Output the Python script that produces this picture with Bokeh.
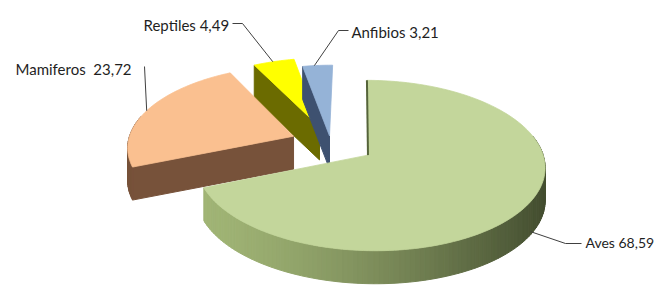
import numpy as np
from bokeh.plotting import figure
from bokeh.models import Range1d
from bokeh.core.properties import value
from bokeh.embed import file_html
from bokeh.resources import INLINE

# ---------------- data ----------------
categories = ["Aves", "Mamiferos", "Reptiles", "Anfibios"]
percent = [68.59, 23.72, 4.49, 3.21]
label_text = ["Aves 68,59", "Mamiferos\u00a0\u00a023,72", "Reptiles 4,49", "Anfibios 3,21"]

# ---------------- styles ----------------
top_colors = ["#C3D69B", "#FAC090", "#FFFF00", "#95B3D7"]
side_colors = ["#8FA466", "#77523A", "#6B6B00", "#3E5170"]
explode = [0.2627, 0.2384, 0.2146, 0.0883]      # fraction of radius
depth = 33                                        # pie thickness in px
# 3-D view (projective map of the pie plane onto the page)
view = dict(cx=330.2, cy=142.4, ax=168.8, bx=3.305, ay=1.296, by=-80.72, k=0.1194, kx=-0.01511)

vals = np.array(percent, float)
cum = np.concatenate([[0.0], np.cumsum(vals)])
hi = 90 - cum[:-1] * 3.6          # slices run clockwise from 12 o'clock
lo = 90 - cum[1:] * 3.6
mid = (hi + lo) / 2


def proj(u, v):
    w = 1 + view["k"] * v + view["kx"] * u
    return (view["cx"] + (view["ax"] * u + view["bx"] * v) / w,
            view["cy"] + (view["ay"] * u + view["by"] * v) / w)


def top_pt(i, t):
    mu = np.radians(mid[i]); tt = np.radians(t)
    e = explode[i]
    return proj(e * np.cos(mu) + np.cos(tt), e * np.sin(mu) + np.sin(tt))


def apex_pt(i):
    mu = np.radians(mid[i]); e = explode[i]
    return proj(e * np.cos(mu), e * np.sin(mu))


# ---------------- figure ----------------
p = figure(width=657, height=286, x_range=Range1d(0, 657), y_range=Range1d(286, 0),
           output_backend="svg", toolbar_location=None, x_axis_type=None, y_axis_type=None,
           min_border=0)
p.outline_line_color = None
p.grid.visible = False
p.background_fill_color = "white"
p.border_fill_color = "white"


def lerp(c1, c2, f):
    return "#%02x%02x%02x" % tuple(int(round(a + (b - a) * f)) for a, b in zip(c1, c2))


for i in [2, 3, 1, 0]:            # back to front
    ax_, ay_ = apex_pt(i)
    n = max(8, int((hi[i] - lo[i]) / 1.5))
    ts = np.linspace(lo[i], hi[i], n)
    tx, ty = top_pt(i, ts)
    xs_list, ys_list, cols = [], [], []
    # radial cut faces that face the viewer
    for t, nrm in [(lo[i], lo[i] - 90), (hi[i], hi[i] + 90)]:
        if np.sin(np.radians(nrm)) < -0.05:
            ex, ey = top_pt(i, t)
            xs_list.append([ax_, ex, ex, ax_])
            ys_list.append([ay_, ey, ey + depth, ay_ + depth])
            cols.append(side_colors[i])
    # outer curved side
    xl, xr = tx.min(), tx.max()
    for j in range(n - 1):
        tm = np.radians((ts[j] + ts[j + 1]) / 2)
        if np.sin(tm) < 0.25:
            xs_list.append([tx[j], tx[j + 1], tx[j + 1], tx[j]])
            ys_list.append([ty[j], ty[j + 1], ty[j + 1] + depth, ty[j] + depth])
            if i == 0:
                f = ((tx[j] + tx[j + 1]) / 2 - xl) / (xr - xl)
                cols.append(lerp((160, 180, 117), (68, 78, 48), min(1, max(0, f)) ** 1.4))
            else:
                cols.append(side_colors[i])
    if xs_list:
        p.patches(xs_list, ys_list, fill_color=cols, line_color=cols, line_width=1)
    p.patch(np.concatenate([[ax_], tx]), np.concatenate([[ay_], ty]),
            fill_color=top_colors[i], line_color=top_colors[i], line_width=0.8)
    if i == 0:
        ex, ey = top_pt(0, hi[0])
        p.line([ax_, ex], [ay_, ey], line_color="#55643A", line_width=2)

# ---------------- labels and leader lines ----------------
lab_x = [585, 15, 143, 351]
lab_y = [242, 68, 24, 31]
lab_size = ["14px", "15px", "15px", "15px"]
p.text(lab_x, lab_y, text=label_text, text_font=value("Lato"), text_font_size=lab_size,
       text_color="#1F1F1F", text_baseline="alphabetic", text_align="left")

anchor_angle = [-30, 161, 110, 97]
anchors = []
for i, a in enumerate(anchor_angle):
    x, y = top_pt(i, a)
    if i == 0:
        y = y + depth * 0.9
    anchors.append((float(x), float(y)))

leaders_x = [[anchors[0][0], 565, 581], [144, anchors[1][0]],
             [232, 242, anchors[2][0]], [348, 338, anchors[3][0]]]
leaders_y = [[anchors[0][1], 243, 243], [66, anchors[1][1]],
             [23, 23, anchors[2][1]], [30, 30, anchors[3][1]]]
p.multi_line(leaders_x, leaders_y, line_color="#404040", line_width=1)

open("out.html", "w").write(file_html(p, INLINE))
